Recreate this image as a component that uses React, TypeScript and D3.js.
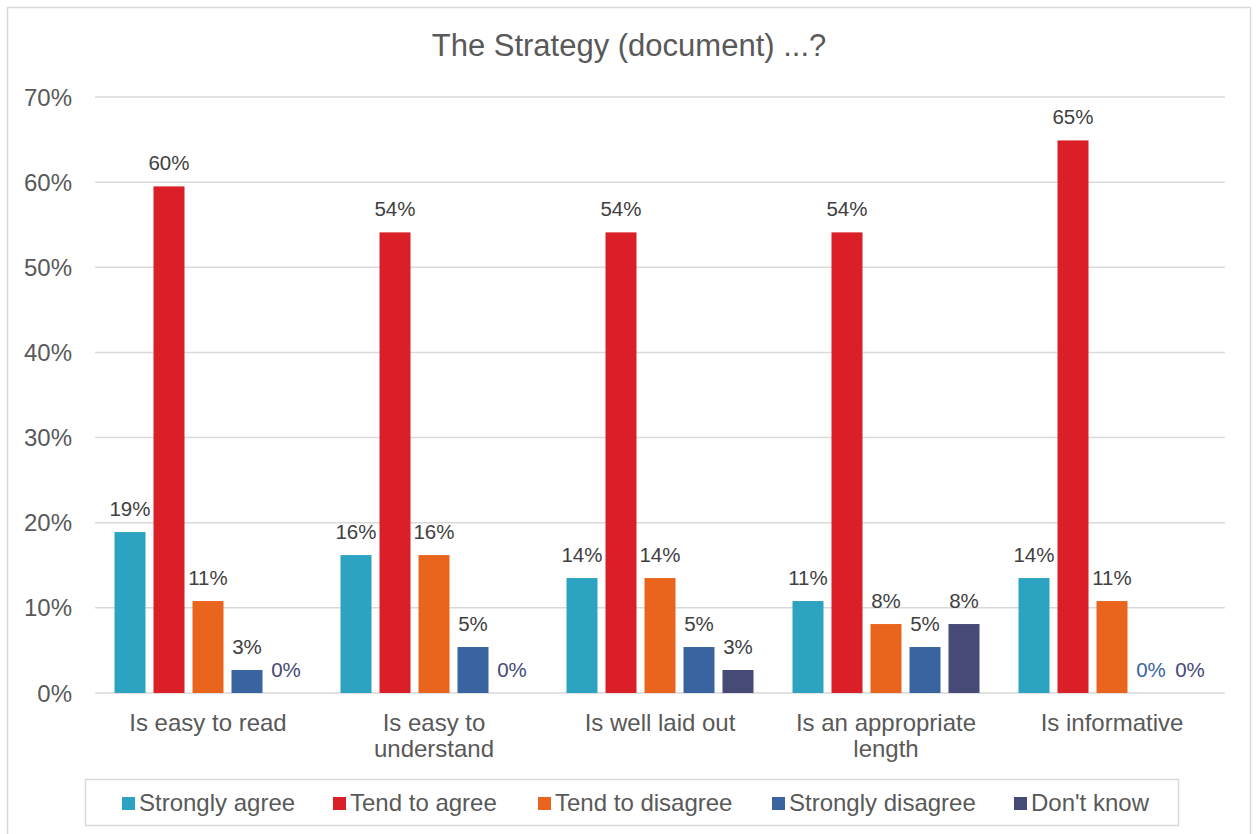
import React from "react";
import * as d3 from "d3";

const categories: string[][] = [
  ["Is easy to read"],
  ["Is easy to", "understand"],
  ["Is well laid out"],
  ["Is an appropriate", "length"],
  ["Is informative"],
];
const seriesNames = ["Strongly agree", "Tend to agree", "Tend to disagree", "Strongly disagree", "Don't know"];
const seriesColors = ["#2BA3C1", "#DA1F29", "#E9651E", "#3A64A0", "#454A76"];
const stronglyAgree = [18.9, 16.2, 13.5, 10.8, 13.5];
const tendToAgree = [59.5, 54.1, 54.1, 54.1, 64.9];
const tendToDisagree = [10.8, 16.2, 13.5, 8.1, 10.8];
const stronglyDisagree = [2.7, 5.4, 5.4, 5.4, 0];
const dontKnow = [0, 0, 2.7, 8.1, 0];
const yTicks = [0, 10, 20, 30, 40, 50, 60, 70];
const legendX = [122, 333, 538, 772, 1014];

const seriesValues = [stronglyAgree, tendToAgree, tendToDisagree, stronglyDisagree, dontKnow];

export default function App() {
  const W = 1257, H = 834;
  const left = 95, right = 1225, top = 97, bottom = 693;
  const y = d3.scaleLinear().domain([0, 70]).range([bottom, top]);
  const x0 = d3.scaleBand<number>().domain(d3.range(categories.length)).range([left, right]).paddingInner(0).paddingOuter(0);
  const x1 = d3.scaleBand<number>().domain(d3.range(seriesNames.length)).range([0, x0.bandwidth()]).paddingInner(0.205).paddingOuter(0.5);
  const font = "Arial, 'Liberation Sans', sans-serif";
  return (
    <svg width={W} height={H} style={{ position: "absolute", left: 0, top: 0 }} fontFamily={font}>
      <rect x={0} y={0} width={W} height={H} fill="#fff" />
      <rect x={7.5} y={7.5} width={1243} height={840} fill="#fff" stroke="#D9D9D9" strokeWidth={1.5} />
      <text x={629} y={56} textAnchor="middle" fontSize={31} fill="#595959">The Strategy (document) ...?</text>
      {yTicks.map((t) => (
        <g key={t}>
          <line x1={left} x2={right} y1={y(t)} y2={y(t)} stroke="#D9D9D9" strokeWidth={1.5} />
          <text x={72} y={y(t) + 8.5} textAnchor="end" fontSize={24} fill="#595959">{t}%</text>
        </g>
      ))}
      {categories.map((cat, ci) => {
        const gx = x0(ci)!;
        return (
          <g key={ci}>
            {seriesValues.map((vals, si) => {
              const v = vals[ci];
              const bx = gx + x1(si)!;
              const bw = x1.bandwidth();
              return (
                <g key={si}>
                  {v > 0 && (
                    <rect x={bx} y={y(v)} width={bw} height={y(0) - y(v)} fill={seriesColors[si]} />
                  )}
                  <text
                    x={bx + bw / 2}
                    y={y(v) - 16}
                    textAnchor="middle"
                    fontSize={20.5}
                    fill={v > 0 ? "#404040" : seriesColors[si]}
                  >
                    {Math.round(v)}%
                  </text>
                </g>
              );
            })}
            {cat.map((line, li) => (
              <text key={li} x={gx + x0.bandwidth() / 2} y={730.5 + li * 26} textAnchor="middle" fontSize={24} fill="#595959">
                {line}
              </text>
            ))}
          </g>
        );
      })}
      <rect x={85.5} y={779.5} width={1093} height={46} fill="none" stroke="#D9D9D9" strokeWidth={1.5} />
      {seriesNames.map((s, i) => (
        <g key={s}>
          <rect x={legendX[i]} y={797} width={13} height={13} fill={seriesColors[i]} />
          <text x={legendX[i] + 17} y={811} fontSize={24} fill="#595959">{s}</text>
        </g>
      ))}
    </svg>
  );
}
